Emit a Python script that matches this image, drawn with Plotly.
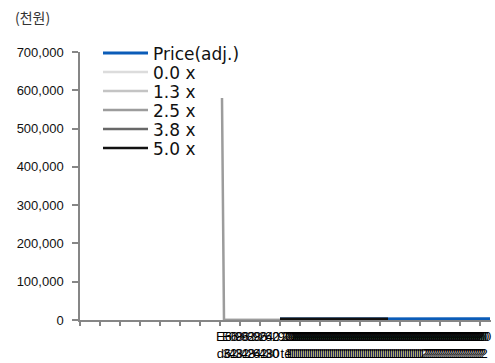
import plotly.graph_objects as go

# ---- data (index positions on the category axis, values in 천원) ----
price_x = [100, 120, 140, 154, 170, 190, 205]
price_y = [2500, 2600, 2400, 2700, 2900, 2800, 3000]

band00_x = [72, 100]
band00_y = [0, 0]
band13_x = [72, 100]
band13_y = [0, 0]
band25_x = [71, 72, 100]
band25_y = [580000, 0, 0]
band38_x = [100, 154]
band38_y = [2000, 2000]
band50_x = [100, 154]
band50_y = [3000, 3000]

# tick labels (overlapping category labels of the original)
lab1_x = [72, 75, 78, 81, 84, 87, 90, 93, 96, 98]
lab1_top = ["E6", "E6", "08", "96", "92", "88", "96", "24", "62", "0"]
lab1_bot = ["d6", "32", "48", "32", "48", "24", "62", "48", "30", "0"]
lab2_x = list(range(103, 203))
lab2_top = ["9C"] + ["20"] * 99
lab2_bot = ["te"] + ["1"] * 68 + ["2"] * 31

tickvals = lab1_x + lab2_x
ticktext = [f"{a}<br>{b}" for a, b in zip(lab1_top + lab2_top, lab1_bot + lab2_bot)]

x_range = [0, 205.5]

# legend rows (pixel centres in the reference) -> one legend per entry
legend_rows = [53, 72, 91, 110, 129, 148]

fig = go.Figure()
series = [
    ("Price(adj.)", price_x, price_y, "#0B5CB8", 3),
    ("0.0 x", band00_x, band00_y, "#DCDCDC", 2.5),
    ("1.3 x", band13_x, band13_y, "#C4C4C4", 2.5),
    ("2.5 x", band25_x, band25_y, "#9C9C9C", 2.5),
    ("3.8 x", band38_x, band38_y, "#686868", 2.5),
    ("5.0 x", band50_x, band50_y, "#111111", 2.5),
]
legend_names = ["legend"] + [f"legend{i}" for i in range(2, 7)]
for (name, xs, ys, col, w), lg in zip(series, legend_names):
    fig.add_trace(go.Scatter(x=xs, y=ys, mode="lines", name=name, legend=lg,
                             line=dict(color=col, width=w)))

legend_layout = {}
for lg, c in zip(legend_names, legend_rows):
    legend_layout[lg] = dict(x=(98 - 80) / 411, y=(320 - c + 17.5) / 268,
                             xanchor="left", yanchor="top", itemwidth=45,
                             font=dict(family="DejaVu Sans, Verdana", size=17, color="#111"),
                             bgcolor="rgba(0,0,0,0)", borderwidth=0)

axis_col = "#868686"
fig.update_layout(
    width=495, height=363,
    margin=dict(l=80, r=4, t=52, b=43, autoexpand=False),
    paper_bgcolor="white", plot_bgcolor="white",
    showlegend=True,
    xaxis=dict(range=x_range, tickmode="array", tickvals=tickvals, ticktext=ticktext,
               tickangle=0, ticks="", showgrid=False, zeroline=False, automargin=False,
               showline=True, linecolor=axis_col, linewidth=1.5, ticklabelstandoff=4,
               tickfont=dict(family="Liberation Sans, Arial", size=13, color="#000")),
    xaxis2=dict(range=x_range, overlaying="x", anchor="y", side="bottom",
                tickmode="linear", tick0=0, dtick=10, ticks="outside", ticklen=5,
                tickcolor=axis_col, tickwidth=1.5, showticklabels=False, automargin=False,
                showgrid=False, zeroline=False, showline=False),
    yaxis=dict(range=[0, 700000], tickmode="linear", tick0=0, dtick=100000,
               tickformat=",", ticks="outside", ticklen=6, tickcolor=axis_col,
               tickwidth=1.5, showline=True, linecolor=axis_col, linewidth=1.5,
               showgrid=False, zeroline=False, ticklabelstandoff=6, automargin=False,
               tickfont=dict(family="Liberation Sans, Arial", size=13, color="#111")),
    annotations=[dict(text="(천원)", xref="paper", yref="paper",
                      x=(13 - 80) / 411, y=(320 - 17) / 268, xanchor="left",
                      yanchor="middle", showarrow=False,
                      font=dict(family="Noto Sans CJK KR", size=14, color="#333"))],
    **legend_layout,
)
fig.add_trace(go.Scatter(x=[None], y=[None], xaxis="x2", showlegend=False, hoverinfo="skip"))

fig.write_html("out.html")
